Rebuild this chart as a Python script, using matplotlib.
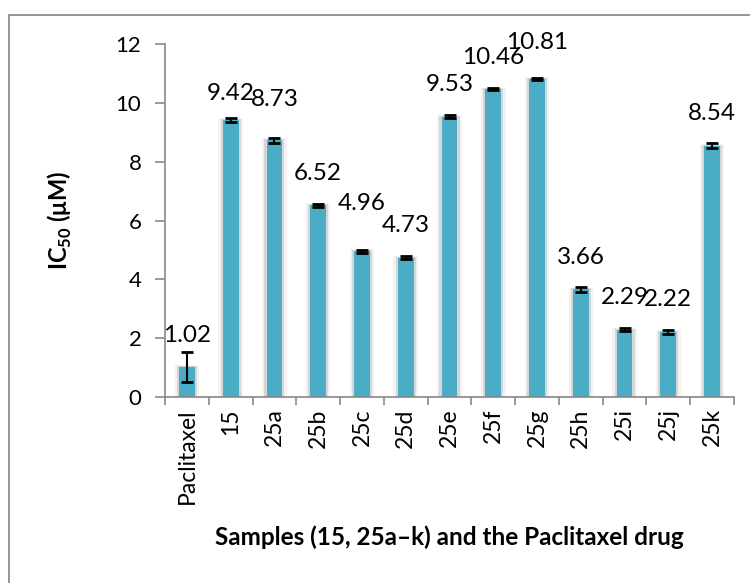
import matplotlib
matplotlib.use("Agg")
from matplotlib import pyplot as plt
from matplotlib.patches import Rectangle
import numpy as np

# values
samples = ["Paclitaxel", "15", "25a", "25b", "25c", "25d", "25e",
           "25f", "25g", "25h", "25i", "25j", "25k"]
ic50 = [1.02, 9.42, 8.73, 6.52, 4.96, 4.73, 9.53,
        10.46, 10.81, 3.66, 2.29, 2.22, 8.54]
errors = [0.51, 0.08, 0.08, 0.05, 0.05, 0.05, 0.05,
          0.04, 0.05, 0.09, 0.04, 0.07, 0.08]
yticks = [0, 2, 4, 6, 8, 10, 12]

plt.rcParams["font.family"] = ["Lato", "DejaVu Sans"]
plt.rcParams["mathtext.fontset"] = "custom"
plt.rcParams["mathtext.rm"] = "Lato"
plt.rcParams["mathtext.bf"] = "Lato:bold"
bar_color = "#4BACC6"
axis_gray = "#888888"

fig = plt.figure(figsize=(7.5, 5.83), dpi=100)
ax = fig.add_axes([0.22, 0.319, 0.7587, 0.6055])

# outer chart border (cut off at the right and bottom like the reference)
fig.patches.append(Rectangle((9 / 750, -0.1), 1.2, 1 - 15 / 583 + 0.1,
                             transform=fig.transFigure, fill=False,
                             edgecolor="#8c8c8c", linewidth=1.3))

x = np.arange(len(samples))

# soft shadow behind each bar
ax.bar(x, np.array(ic50) + 0.06, width=0.56, color="#f2f2f2", zorder=1)
ax.bar(x, np.array(ic50) + 0.03, width=0.46, color="#d6d6d6", zorder=1)
ax.bar(x, ic50, width=0.36, color=bar_color, zorder=2)
ax.errorbar(x, ic50, yerr=errors, fmt="none", ecolor="black",
            elinewidth=1.5, capsize=4, capthick=2, zorder=3)

# data labels sit ~23 pt above the bar top; a few were nudged in the original
nudge = {1: -4, 2: 6, 4: 11, 8: 3}
for i, (xi, v) in enumerate(zip(x, ic50)):
    ax.annotate(f"{v:.2f}", (xi, v), xytext=(0, 23 + nudge.get(i, 0)),
                textcoords="offset points", ha="center", va="center",
                fontsize=17.5)

ax.set_xlim(-0.5, len(samples) - 0.5)
ax.set_ylim(0, 12)
ax.set_yticks(yticks)
ax.set_yticklabels([str(t) for t in yticks], fontsize=16)

# Excel-style: tick marks between categories, labels at the centres
ax.set_xticks(np.arange(len(samples) + 1) - 0.5)
ax.set_xticklabels([])
ax.set_xticks(x, minor=True)
ax.set_xticklabels(samples, minor=True, rotation=90, fontsize=16.5)
ax.tick_params(axis="x", which="minor", length=0, pad=8)
ax.tick_params(axis="x", which="major", length=6, width=1.2, color=axis_gray)
ax.tick_params(axis="y", length=7, width=1.2, color=axis_gray, pad=10)

for side in ["top", "right"]:
    ax.spines[side].set_visible(False)
for side in ["left", "bottom"]:
    ax.spines[side].set_color(axis_gray)
    ax.spines[side].set_linewidth(1.2)

ax.set_ylabel("IC$_{\\mathbf{50}}$ (\u03bcM)",
              fontsize=17, fontweight="bold", labelpad=30)
ax.set_xlabel("Samples (15, 25a\u2013k) and the Paclitaxel drug",
              fontsize=17.5, fontweight="bold", labelpad=16)

plt.savefig("out.png", dpi=100)
